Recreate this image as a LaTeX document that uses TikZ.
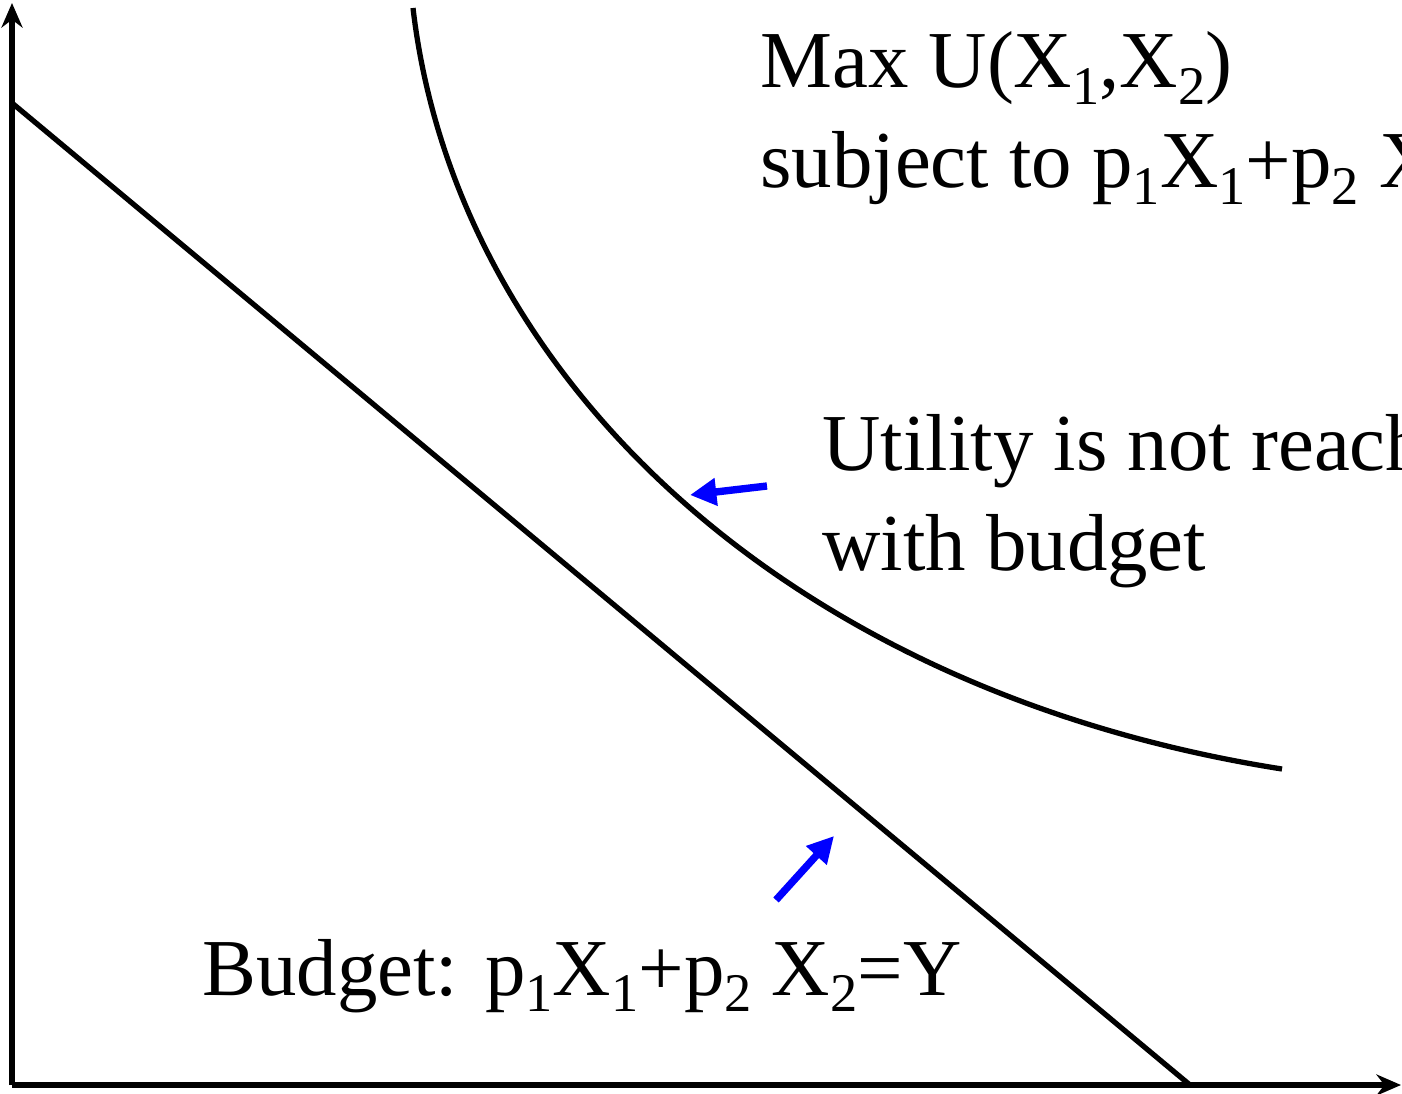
\documentclass[tikz,border=0pt]{standalone}
\usepackage{fontspec}
\setmainfont{Liberation Serif}
\usetikzlibrary{arrows.meta}
\newcommand\sbx[1]{\raisebox{-0.21em}{\fontsize{31}{31}\selectfont #1}}
\begin{document}
\begin{tikzpicture}[x=0.02cm,y=-0.02cm,
  axis/.style={line width=3.2pt,-{Stealth[length=14pt,width=12pt]}},
  curveline/.style={line width=3pt},
  bluearrow/.style={draw=blue,line width=4.2pt,-{Triangle[length=15pt,width=15pt]},blue},
  lbl/.style={anchor=base west,inner sep=0pt,font=\fontsize{46}{56}\selectfont}]
\useasboundingbox (0,0) rectangle (1402,1094);
\clip (0,0) rectangle (1402,1094);
\coordinate (O) at (12,1085);
\coordinate (ytop) at (12,3);
\coordinate (xend) at (1401,1085);
\draw[axis] (O) -- (ytop);
\draw[axis] (O) -- (xend);
\coordinate (b1) at (12,103);
\coordinate (b2) at (1190,1085);
\draw[curveline] (b1) -- (b2);
\coordinate (u1) at (413,8);
\coordinate (u2) at (1282,769);
\draw[curveline] (u1) .. controls (455,370) and (780,690) .. (u2);
\node[lbl] (t1) at (760,88) {Max U(X\sbx{1},X\sbx{2})};
\node[lbl] (t2) at (760,188) {subject to p\sbx{1}X\sbx{1}+p\sbx{2} X\sbx{2}=Y};
\node[lbl] (t3) at (822,470) {Utility is not reached};
\node[lbl] (t4) at (822,570) {with budget};
\node[lbl] (t5) at (202,995) {Budget: p\sbx{1}X\sbx{1}+p\sbx{2} X\sbx{2}=Y};
\coordinate (a1s) at (767,486);
\coordinate (a1e) at (690,495);
\coordinate (a2s) at (776,900);
\coordinate (a2e) at (834,836);
\draw[bluearrow] (a1s) -- (a1e);
\draw[bluearrow] (a2s) -- (a2e);
\end{tikzpicture}
\end{document}
